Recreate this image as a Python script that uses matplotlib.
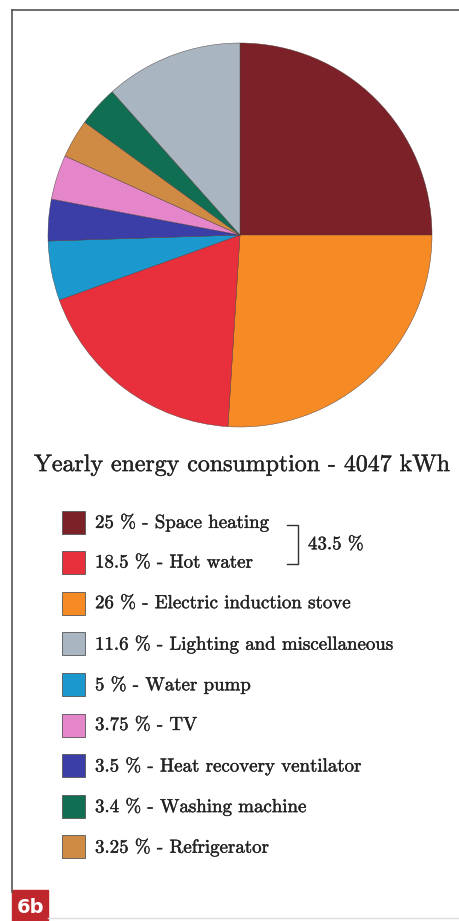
import matplotlib
matplotlib.use("Agg")
import matplotlib.pyplot as plt
import matplotlib.patheffects as pe
from matplotlib.patches import Rectangle

# Shares of yearly consumption, in pie order (clockwise from 12 o'clock)
names = ['Space heating', 'Electric induction stove', 'Hot water', 'Water pump',
         'Heat recovery ventilator', 'TV', 'Refrigerator', 'Washing machine',
         'Lighting and miscellaneous']
shares = [25, 26, 18.5, 5, 3.5, 3.75, 3.25, 3.4, 11.6]
colors = ['#7b2127', '#f68b26', '#e7303b', '#1b99cf', '#3a3ea6',
          '#e486c9', '#cf8a44', '#106e53', '#a9b5c0']

# Order used in the key below the chart
legend_order = ['Space heating', 'Hot water', 'Electric induction stove',
                'Lighting and miscellaneous', 'Water pump', 'TV',
                'Heat recovery ventilator', 'Washing machine', 'Refrigerator']
grouped = ['Space heating', 'Hot water']

total_kwh = 4047

W, H = 459, 921
fig = plt.figure(figsize=(W / 100, H / 100), dpi=100)
serif = ['cmr10', 'DejaVu Serif']
plt.rcParams['axes.formatter.use_mathtext'] = True
ink = [pe.withStroke(linewidth=0.3, foreground='#2a2a2a')]

# pie
cx, cy, r = 240, 235, 192
pax = fig.add_axes([(cx - r) / W, 1 - (cy + r) / H, 2 * r / W, 2 * r / H])
pax.pie(shares, colors=colors, startangle=90, counterclock=False,
        wedgeprops=dict(edgecolor='#4a3a3a', linewidth=0.3))
pax.set_xlim(-1, 1)
pax.set_ylim(-1, 1)
pax.set_aspect('equal')
pax.axis('off')

# overlay in pixel coordinates for frame, title and key
ax = fig.add_axes([0, 0, 1, 1], zorder=-1)
ax.set_xlim(0, W)
ax.set_ylim(H, 0)
ax.axis('off')

ax.plot([12, 12], [10, 892], color='#555555', lw=1.2)
ax.plot([12, W], [10, 10], color='#555555', lw=1.2)
ax.plot([48, W], [918, 918], color='#dddddd', lw=1)
ax.add_patch(Rectangle((12, 890), 36, 33, color='#c0272d'))
ax.text(30, 907, '6b', color='white', fontsize=14, fontweight='bold',
        family='DejaVu Sans', ha='center', va='center')

ax.text(242, 465, f'Yearly energy consumption - {total_kwh} kWh',
        fontsize=17.2, family=serif, ha='center', va='center', color='#222222',
        path_effects=ink)

row0, step = 522, 40.6
sq = 23
for i, name in enumerate(legend_order):
    k = names.index(name)
    y = row0 + i * step
    ax.add_patch(Rectangle((62, y - sq / 2), sq, sq, facecolor=colors[k],
                           edgecolor='#555555', lw=0.6))
    ax.text(95, y, f'{shares[k]:g} % - {name}', fontsize=13.6,
            family=serif, ha='left', va='center', color='#222222',
            path_effects=ink)

# bracket joining heating and hot water
g_sum = sum(shares[names.index(n)] for n in grouped)
ya, yb = row0 + 3, row0 + step + 1
ax.plot([287, 298, 298, 287], [ya, ya, yb, yb], color='#333333', lw=1)
ax.text(308, (ya + yb) / 2, f'{g_sum:g} %', fontsize=13.6, family=serif,
        ha='left', va='center', color='#222222', path_effects=ink)

fig.savefig('out.png', dpi=100)
